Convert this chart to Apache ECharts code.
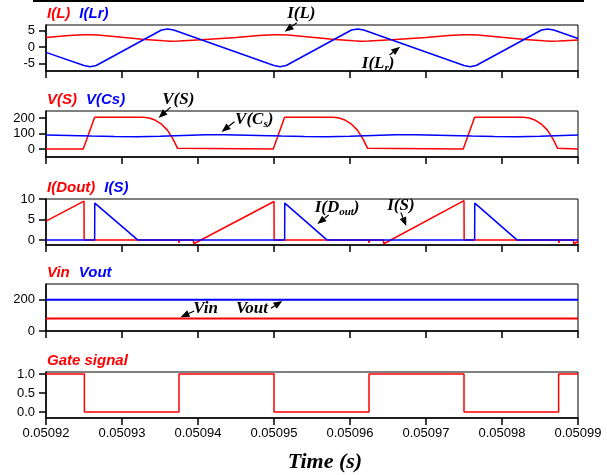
<!DOCTYPE html>
<html><head><meta charset="utf-8">
<script src="https://cdn.jsdelivr.net/npm/echarts@6/dist/echarts.min.js"></script>
<style>html,body{margin:0;padding:0;background:#fff}#c{width:607px;height:475px}</style>
</head><body><div id="c"></div>
<script>
// time in microseconds after 0.05092 s
const X_LABELS = ['0.05092','0.05093','0.05094','0.05095','0.05096','0.05097','0.05098','0.05099'];

const tIL  = [0,3,5,5.8,6.8,10,13,15.5,16.3,17.5,21, 25,28,30,30.8,31.8,35,38,40.5,41.3,42.5,46, 50,53,55,55.8,56.8,60,63,65.5,66.3,67.5,70];
const vIL  = [2.95,3.5,3.75,3.8,3.7,3.0,2.35,1.9,1.8,1.85,2.35, 2.95,3.5,3.75,3.8,3.7,3.0,2.35,1.9,1.8,1.85,2.35, 2.95,3.5,3.75,3.8,3.7,3.0,2.35,1.9,1.8,1.85,2.2];
const tILr = [0,5.0,5.8,6.6,15.2,16.0,16.8,30.0,30.8,31.6,40.2,41.0,41.8,55.0,55.8,56.6,65.2,66.0,66.8,70];
const vILr = [-1.6,-5.6,-6.0,-5.6,5.2,5.5,5.2,-5.6,-6.0,-5.6,5.2,5.5,5.2,-5.6,-6.0,-5.6,5.2,5.5,5.2,2.6];

const tVS  = [0,4.9,6.4,12.8,13.6,14.4,15.2,16.0,16.7,17.3,17.5, 29.9,31.4,37.8,38.6,39.4,40.2,41.0,41.7,42.3,42.5, 54.9,56.4,62.8,63.6,64.4,65.2,66.0,66.7,67.3,67.5,70];
const vVS  = [0,0,205,205,200,185,160,120,65,5,0, 0,205,205,200,185,160,120,65,5,0, 0,205,205,200,185,160,120,65,5,0,0];
const tVCs = [0,3,6,9,12,15,18,21,23.5, 25,28,31,34,37,40,43,46,48.5, 50,53,56,59,62,65,68,70];
const vVCs = [90,87,83,80,79.5,82,87,91,91.5, 90,87,83,80,79.5,82,87,91,91.5, 90,87,83,80,79.5,82,87,90];

const tIDout = [0,5.0,5.02,17.45,17.5,17.55,19.4,19.45,30.0,30.02, 42.45,42.5,42.55,44.4,44.45,55.0,55.02, 67.45,67.5,67.55,69.4,69.45,70];
const vIDout = [4.6,9.5,0,0,-0.7,0,0,-0.9,9.4,0, 0,-0.7,0,0,-0.9,9.6,0, 0,-0.7,0,0,-0.9,-0.35];
const tIS  = [0,6.4,6.42,12.1,31.4,31.42,37.0,56.4,56.42,62.0,70];
const vIS  = [0,0,9.0,0,0,9.0,0,0,9.0,0,0];

const tV    = [0,70];
const vVin  = [80,80];
const vVout = [200,200];

const tGate = [0,5.05,5.05,17.5,17.5,30.0,30.0,42.5,42.5,55.0,55.0,67.45,67.45,70];
const vGate = [1,1,0,0,1,1,0,0,1,1,0,0,1,1];

const zip = (t, v) => t.map((x, i) => [x, v[i]]);

const RED = '#ff0000', BLUE = '#0000ff';
const panels = [
  {top:25,  h:46, min:-7.27, max:6.73, ticks:[-5,0,5], fmt:v=>String(v),
   series:[['I(L)',tIL,vIL,RED],['I(Lr)',tILr,vILr,BLUE]]},
  {top:111, h:46, min:-52, max:245, ticks:[0,100,200], fmt:v=>String(v),
   series:[['V(S)',tVS,vVS,RED],['V(Cs)',tVCs,vVCs,BLUE]]},
  {top:199, h:46, min:-1.2, max:10, ticks:[0,5,10], fmt:v=>String(v),
   series:[['I(Dout)',tIDout,vIDout,RED],['I(S)',tIS,vIS,BLUE]]},
  {top:284, h:47, min:0, max:300, ticks:[0,200], fmt:v=>String(v), lw:2,
   series:[['Vin',tV,vVin,RED],['Vout',tV,vVout,BLUE]]},
  {top:372, h:46, min:-0.158, max:1.053, ticks:[0,0.5,1], fmt:v=>v.toFixed(1),
   series:[['Gate signal',tGate,vGate,RED]]}
];

const option = {animation:false, backgroundColor:'#fff',
  grid:[], xAxis:[], yAxis:[], series:[], legend:[]};
panels.forEach((p, i) => {
  option.grid.push({left:46, right:29, top:p.top, height:p.h, show:true,
    borderColor:'#000', borderWidth:1, backgroundColor:'transparent'});
  option.xAxis.push({type:'value', gridIndex:i, min:0, max:70, interval:10,
    axisLine:{show:true, onZero:false, lineStyle:{color:'#000', width:1.5}},
    axisTick:{show:true, inside:false, length:7, lineStyle:{color:'#000', width:1.5}},
    axisLabel:{show:i===4, showMinLabel:true, showMaxLabel:true, color:'#000', fontSize:13,
      fontFamily:'Liberation Sans', margin:9, formatter:v=>X_LABELS[Math.round(v/10)]},
    splitLine:{show:false}});
  option.yAxis.push({type:'value', gridIndex:i, min:p.min, max:p.max,
    axisLine:{show:true, onZero:false, lineStyle:{color:'#000', width:1.5}},
    axisTick:{show:true, inside:false, length:7, customValues:p.ticks, lineStyle:{color:'#000', width:1.5}},
    axisLabel:{color:'#000', fontSize:13, fontFamily:'Liberation Sans', margin:11,
      customValues:p.ticks, formatter:p.fmt},
    splitLine:{show:false}});
  p.series.forEach(s => {
    option.series.push({name:s[0], type:'line', xAxisIndex:i, yAxisIndex:i,
      data:zip(s[1], s[2]), symbol:'none', silent:true,
      lineStyle:{color:s[3], width:p.lw || 1.5}, itemStyle:{color:s[3]}});
  });
  option.legend.push({left:42, top:p.top - 19, padding:0, icon:'none', itemWidth:0, itemHeight:0, itemGap:4,
    selectedMode:false,
    textStyle:{fontSize:15, fontWeight:'bold', fontStyle:'italic', fontFamily:'Liberation Sans'},
    data:p.series.map(s => ({name:s[0], textStyle:{color:s[3]}}))});
});

const chart = echarts.init(document.getElementById('c'), null, {renderer:'canvas'});
chart.setOption(option);

const ANN = [
  {g:0, text:'{a|I(L)}', at:[33.6,10.1], tail:[33.0,7.4], tip:[31.4,4.7]},
  {g:0, text:'{a|I(L}{s|r}{a|)}', at:[43.7,-5.0], tail:[45.2,-2.4], tip:[46.6,0.1]},
  {g:1, text:'{a|V(S)}', at:[17.4,321], tail:[16.4,270], tip:[14.8,200]},
  {g:1, text:'{a|V(C}{s|s}{a|)}', at:[27.4,189], tail:[24.8,176], tip:[23.1,110]},
  {g:2, text:'{a|I(D}{s|out}{a|)}', at:[38.3,8.0], tail:[37.2,6.1], tip:[35.7,3.9]},
  {g:2, text:'{a|I(S)}', at:[46.7,8.5], tail:[46.7,6.7], tip:[47.4,3.4]},
  {g:3, text:'{a|Vin}', at:[21.0,140], tail:[19.5,128], tip:[17.7,88]},
  {g:3, text:'{a|Vout}', at:[27.1,140], tail:[29.6,145], tip:[31.1,192]}
];

const graphics = [
  {type:'line', shape:{x1:33, y1:1, x2:584, y2:1}, style:{stroke:'#000', lineWidth:2}},
  {type:'text', x:325, y:462, style:{text:'Time (s)', font:'bold italic 22px "Liberation Serif"',
    fill:'#000', align:'center', verticalAlign:'middle'}}
];
const rich = {
  a:{fontFamily:'Liberation Serif', fontWeight:'bold', fontStyle:'italic', fontSize:17, lineHeight:20, verticalAlign:'middle', fill:'#000'},
  s:{fontFamily:'Liberation Serif', fontWeight:'bold', fontStyle:'italic', fontSize:11, lineHeight:20, verticalAlign:'bottom', fill:'#000'}
};
ANN.forEach(a => {
  const c = chart.convertToPixel({gridIndex:a.g}, a.at);
  const p1 = chart.convertToPixel({gridIndex:a.g}, a.tail);
  const p2 = chart.convertToPixel({gridIndex:a.g}, a.tip);
  graphics.push({type:'text', x:c[0], y:c[1], style:{text:a.text, rich:rich,
    align:'center', verticalAlign:'middle', fill:'#000'}});
  const dx = p2[0]-p1[0], dy = p2[1]-p1[1], L = Math.hypot(dx, dy);
  const ux = dx/L, uy = dy/L, hl = 9, hw = 3.5;
  const bx = p2[0]-ux*hl, by = p2[1]-uy*hl;
  graphics.push({type:'line', shape:{x1:p1[0], y1:p1[1], x2:bx, y2:by}, style:{stroke:'#000', lineWidth:1.2}});
  graphics.push({type:'polygon', shape:{points:[[p2[0],p2[1]],[bx-uy*hw, by+ux*hw],[bx+uy*hw, by-ux*hw]]},
    style:{fill:'#000'}});
});
chart.setOption({graphic:graphics});
</script></body></html>
